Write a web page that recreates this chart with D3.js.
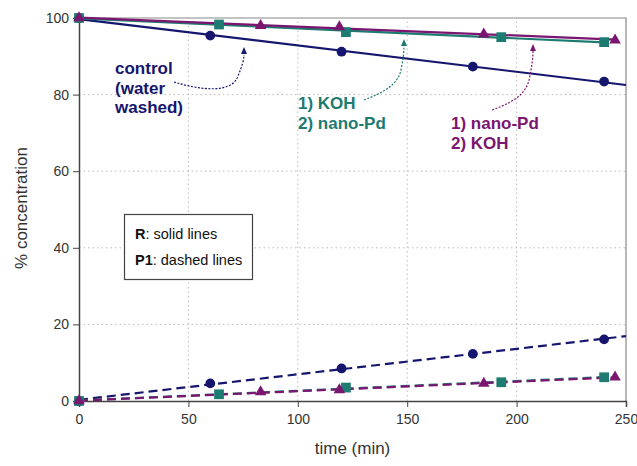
<!DOCTYPE html>
<html>
<head>
  <meta charset="utf-8">
  <title>concentration vs time</title>
  <script src="https://cdn.jsdelivr.net/npm/d3@7"></script>
  <style>
    body { margin: 0; background: white; }
    text { font-family: "Liberation Sans", Arial, sans-serif; }
  </style>
</head>
<body>
<svg id="chart" width="637" height="466"></svg>
<script>
// values
var xTicks = [0, 50, 100, 150, 200, 250];
var yTicks = [0, 20, 40, 60, 80, 100];

// R (solid lines)
var controlR_t = [0, 60, 120, 180, 240];
var controlR_v = [100, 95.4, 91.2, 87.3, 83.4];
var kohPdR_t = [0, 64, 122, 193, 240];
var kohPdR_v = [100, 98.3, 96.3, 95.0, 93.7];
var pdKohR_t = [0, 83, 119, 185, 245];
var pdKohR_v = [100, 98.0, 97.7, 95.8, 94.2];

// P1 (dashed lines)
var controlP_t = [0, 60, 120, 180, 240];
var controlP_v = [0, 4.6, 8.5, 12.3, 16.1];
var kohPdP_t = [0, 64, 122, 193, 240];
var kohPdP_v = [0, 1.75, 3.5, 4.9, 6.2];
var pdKohP_t = [0, 83, 119, 185, 245];
var pdKohP_v = [0, 2.4, 2.9, 4.6, 6.2];

var navy = '#16166e', teal = '#1d7b71', purple = '#7a1670';

var series = [
  { t: controlR_t, v: controlR_v, color: navy, shape: 'circle', dash: null, end: 250 },
  { t: kohPdR_t, v: kohPdR_v, color: teal, shape: 'square', dash: null },
  { t: pdKohR_t, v: pdKohR_v, color: purple, shape: 'triangle', dash: null },
  { t: controlP_t, v: controlP_v, color: navy, shape: 'circle', dash: '9,5', end: 250 },
  { t: kohPdP_t, v: kohPdP_v, color: teal, shape: 'square', dash: '9,5' },
  { t: pdKohP_t, v: pdKohP_v, color: purple, shape: 'triangle', dash: '9,5' }
];

var svg = d3.select('#chart');
var margin = { left: 79, right: 11, top: 18, bottom: 65 };
var W = 637, H = 466;

var x = d3.scaleLinear().domain([0, 250]).range([margin.left, W - margin.right]);
var y = d3.scaleLinear().domain([0, 100]).range([H - margin.bottom, margin.top]);

// grid
svg.append('g').selectAll('line')
  .data(xTicks.slice(1, -1)).enter().append('line')
  .attr('x1', function (d) { return x(d); }).attr('x2', function (d) { return x(d); })
  .attr('y1', y(0)).attr('y2', y(100))
  .attr('stroke', '#bbb').attr('stroke-dasharray', '1.5,3');
svg.append('g').selectAll('line')
  .data(yTicks.slice(1, -1)).enter().append('line')
  .attr('y1', function (d) { return y(d); }).attr('y2', function (d) { return y(d); })
  .attr('x1', x(0)).attr('x2', x(250))
  .attr('stroke', '#bbb').attr('stroke-dasharray', '1.5,3');

// frame top / right
svg.append('path')
  .attr('d', 'M' + x(0) + ',' + y(100) + 'H' + x(250) + 'V' + y(0))
  .attr('fill', 'none').attr('stroke', '#888').attr('stroke-width', 1.2);

// axes
var xAxis = svg.append('g').attr('transform', 'translate(0,' + y(0) + ')')
  .call(d3.axisBottom(x).tickValues(xTicks).tickSize(6).tickPadding(7));
var yAxis = svg.append('g').attr('transform', 'translate(' + x(0) + ',0)')
  .call(d3.axisLeft(y).tickValues(yTicks).tickSize(6).tickPadding(4));
[xAxis, yAxis].forEach(function (a) {
  a.select('.domain').attr('stroke', '#444').attr('stroke-width', 1.5);
  a.selectAll('.tick line').attr('stroke', '#444');
  a.selectAll('.tick text').attr('fill', '#333').style('font-size', '14px')
    .style('font-family', '"Liberation Sans", Arial, sans-serif');
});

// axis titles
svg.append('text').attr('x', (x(0) + x(250)) / 2).attr('y', 454)
  .attr('text-anchor', 'middle').attr('fill', '#333').style('font-size', '17px')
  .text('time (min)');
svg.append('text').attr('transform', 'translate(27,' + 208 + ') rotate(-90)')
  .attr('text-anchor', 'middle').attr('fill', '#333').style('font-size', '17px')
  .text('% concentration');

// lines: least-squares fit through each series
function fit(t, v) {
  var mt = d3.mean(t), mv = d3.mean(v);
  var num = d3.sum(t, function (d, i) { return (d - mt) * (v[i] - mv); });
  var den = d3.sum(t, function (d) { return (d - mt) * (d - mt); });
  var b = num / den;
  return function (tt) { return mv + b * (tt - mt); };
}

series.forEach(function (s) {
  var f = fit(s.t, s.v);
  var t1 = s.end || s.t[s.t.length - 1];
  svg.append('line')
    .attr('x1', x(0)).attr('y1', y(f(0)))
    .attr('x2', x(t1)).attr('y2', y(f(t1)))
    .attr('stroke', s.color).attr('stroke-width', 2.2)
    .attr('stroke-dasharray', s.dash);
});

// markers
var sym = { circle: d3.symbolCircle, square: d3.symbolSquare, triangle: d3.symbolTriangle };
var symSize = { circle: 75, square: 95, triangle: 58 };
series.forEach(function (s) {
  svg.append('g').selectAll('path')
    .data(s.t.map(function (d, i) { return [d, s.v[i]]; }))
    .enter().append('path')
    .attr('transform', function (d) { return 'translate(' + x(d[0]) + ',' + y(d[1]) + ')'; })
    .attr('d', d3.symbol().type(sym[s.shape]).size(symSize[s.shape]))
    .attr('fill', s.color);
});

// legend box
svg.append('rect').attr('x', 124.5).attr('y', 214.5).attr('width', 128).attr('height', 65)
  .attr('fill', 'white').attr('stroke', '#444').attr('stroke-width', 1.2);
var lg = svg.append('g').style('font-size', '14.5px').attr('fill', '#111');
var l1 = lg.append('text').attr('x', 135).attr('y', 239);
l1.append('tspan').style('font-weight', 'bold').text('R');
l1.append('tspan').text(': solid lines');
var l2 = lg.append('text').attr('x', 135).attr('y', 265);
l2.append('tspan').style('font-weight', 'bold').text('P1');
l2.append('tspan').text(': dashed lines');

// annotations
function label(lines, x0, y0, color) {
  var t = svg.append('text').attr('fill', color).style('font-weight', 'bold').style('font-size', '17px');
  lines.forEach(function (s, i) {
    t.append('tspan').attr('x', x0).attr('y', y0 + i * 19.5).text(s);
  });
}
label(['control', '(water', 'washed)'], 115, 74, navy);
label(['1) KOH', '2) nano-Pd'], 298, 109, teal);
label(['1) nano-Pd', '2) KOH'], 451, 129, purple);

function arrow(d, tip, color) {
  svg.append('path').attr('d', d).attr('fill', 'none')
    .attr('stroke', color).attr('stroke-width', 1.2).attr('stroke-dasharray', '2,1.5');
  svg.append('path')
    .attr('d', 'M' + tip[0] + ',' + tip[1] + 'l-3,7l6,0z')
    .attr('fill', color);
}
arrow('M174,82 C200,90 232,94 238,76 C242,66 244,60 244,55', [244, 47], navy);
arrow('M364,100 C385,92 398,84 401,70 C403,60 404,52 404,46', [404, 39], teal);
arrow('M492,110 C520,100 528,90 530,75 C532,65 533,58 533,51', [533, 44], purple);
</script>
</body>
</html>
